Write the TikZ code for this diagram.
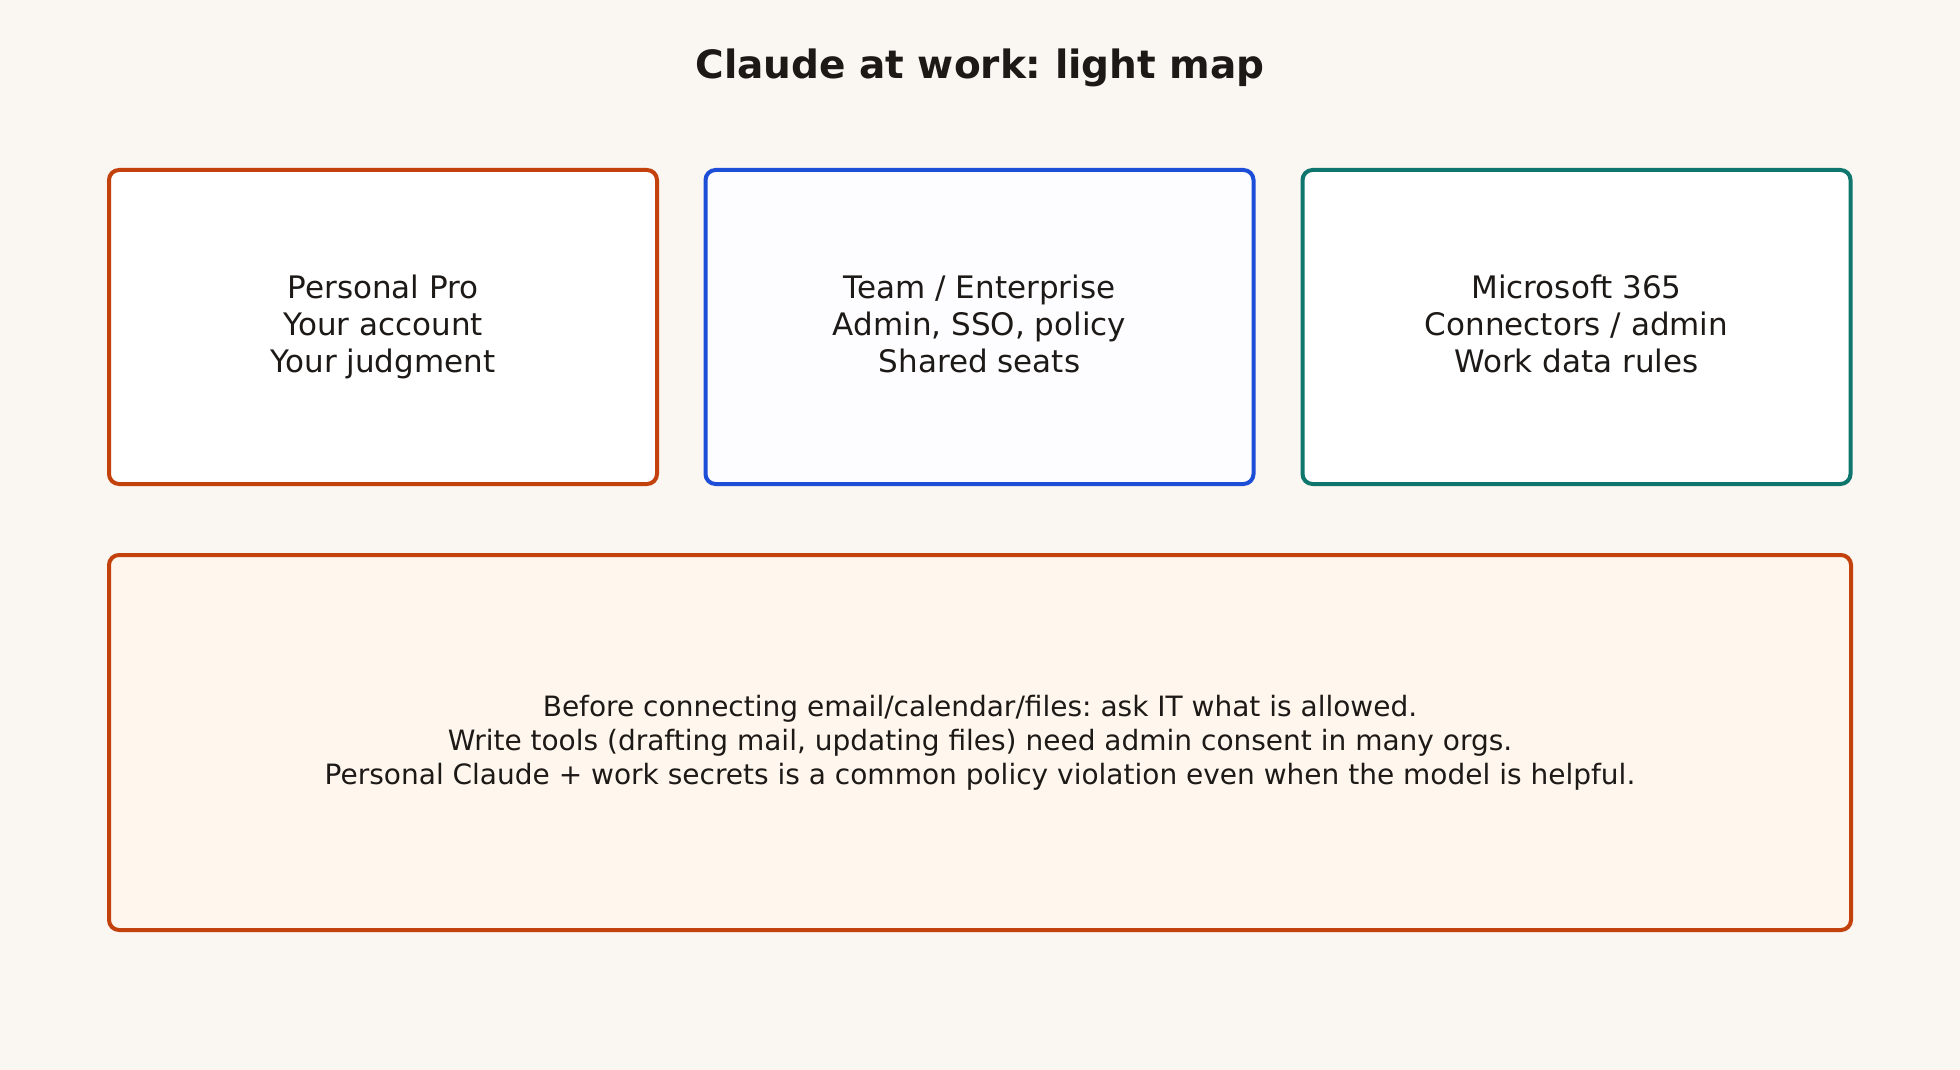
\documentclass[tikz,border=0pt]{standalone}
\usepackage{fontspec}
\setmainfont{DejaVu Sans}
\frenchspacing
\definecolor{pagebg}{HTML}{FAF6F1}
\definecolor{rust}{HTML}{C2410C}
\definecolor{royal}{HTML}{1D4ED8}
\definecolor{teal}{HTML}{0F766E}
\definecolor{cream}{HTML}{FFF7ED}
\definecolor{ink}{HTML}{1C1917}
\tikzset{
  card/.style={draw, line width=4pt, rounded corners=10pt, fill=white, text=ink,
    minimum width=548pt, minimum height=314pt, align=center,
    font=\fontsize{31}{37}\selectfont},
  notecard/.style={card, fill=cream, minimum width=1742pt, minimum height=375pt,
    font=\fontsize{28}{34}\selectfont}
}
\begin{document}
\begin{tikzpicture}[x=1pt,y=-1pt]
    \fill[pagebg] (0,0) rectangle (1960,1070); % page
    \useasboundingbox (0,0) rectangle (1960,1070);
    \node[text=ink, font=\bfseries\fontsize{39}{46}\selectfont] (title) at (980,68) {Claude at work: light map}; % title
    \node[card, draw=rust] (pro) at (383,327) {Personal Pro\\Your account\\Your judgment}; % personal
    \node[card, draw=royal, fill=white!99!royal] (team) at (979.5,327) {Team / Enterprise\\Admin, SSO, policy\\Shared seats\vphantom{g}}; % team
    \node[card, draw=teal] (msft) at (1576.5,327) {Microsoft 365\\Connectors / admin\\Work data rules\vphantom{g}}; % microsoft
    \node[notecard, draw=rust] (note) at (980,742.5) {Before connecting email/calendar/files: ask IT what is allowed.\\Write tools (drafting mail, updating files) need admin consent in many orgs.\\Personal Claude + work secrets is a common policy violation even when the model is helpful.}; % warning
\end{tikzpicture}
\end{document}
